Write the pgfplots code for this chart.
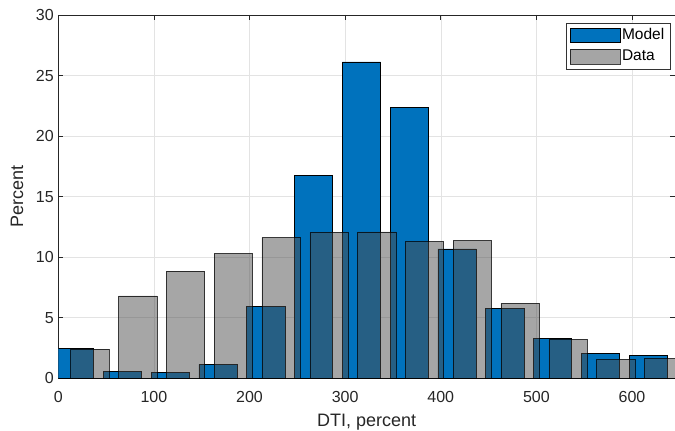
\documentclass[border=0pt]{standalone}
\usepackage{pgfplots}
\pgfplotsset{compat=1.18}
\usepackage{fontspec}
\setmainfont{Liberation Sans}
\definecolor{mblue}{RGB}{0,114,189}
\definecolor{axgray}{RGB}{38,38,38}
\definecolor{dgray}{RGB}{77,77,77}
\pgfplotsset{rectlegend/.style={legend image code/.code={\draw[##1] (0pt,-7.2pt) rectangle (50pt,7.2pt);}}}
\begin{document}
\begin{tikzpicture}
\begin{axis}[
  scale only axis, width=616.7pt, height=363.3pt,
  xmin=0, xmax=645, ymin=0, ymax=30,
  xtick={0,100,...,600}, ytick={0,5,...,30},
  tick align=inside, major tick length=5pt,
  grid=major, grid style={color=black!11, line width=0.5pt},
  axis line style={color=axgray, line width=0.6pt},
  tick style={color=axgray, line width=0.6pt},
  /pgf/number format/assume math mode=true,
  ticklabel style={font=\fontsize{16}{18}\selectfont, color=axgray},
  xticklabel style={yshift=-9pt},
  yticklabel style={xshift=-1pt},
  xlabel={DTI, percent}, ylabel={Percent},
  xlabel style={font=\fontsize{18}{20}\selectfont, color=axgray, at={(axis description cs:0.5,-0.1313)}, anchor=base},
  ylabel style={font=\fontsize{18}{20}\selectfont, color=axgray, at={(axis description cs:-0.0572,0.5)}, anchor=base},
  legend style={at={(rel axis cs:1,1)}, anchor=north east, xshift=-5pt, yshift=-7.7pt,
    draw=black!80, line width=0.5pt, font=\fontsize{15.5}{17}\selectfont,
    inner xsep=4pt, inner ysep=5pt,
    row sep=6.4pt,
    nodes={inner xsep=1.5pt, inner ysep=0pt, text height=11pt, text depth=3pt}},
  legend cell align=left,
]
\addplot[ybar, bar width=40, bar shift=0pt, fill=mblue, draw=black, line width=0.5pt, rectlegend]
  coordinates {
  (17,2.49) (67,0.55) (117,0.50) (167,1.16) (217,5.91) (267,16.73) (317,26.12)
  (367,22.35) (417,10.68) (467,5.75) (517,3.27) (567,2.06) (617,1.90)
  };
\addlegendentry{Model}
\addplot[ybar, bar width=40, bar shift=0pt, fill=dgray, fill opacity=0.5, draw=black, draw opacity=0.75, line width=0.5pt, rectlegend]
  coordinates {
  (33,2.40) (83,6.80) (133,8.86) (183,10.29) (233,11.61) (283,12.06) (333,12.10)
  (383,11.28) (433,11.36) (483,6.19) (533,3.22) (583,1.57) (633,1.62)
  };
\addlegendentry{Data}
\end{axis}
\pgfresetboundingbox
\path ([shift={(-58.3pt,-52.7pt)}]current axis.south west) rectangle ([shift={(0pt,15pt)}]current axis.north east);
\end{tikzpicture}
\end{document}
